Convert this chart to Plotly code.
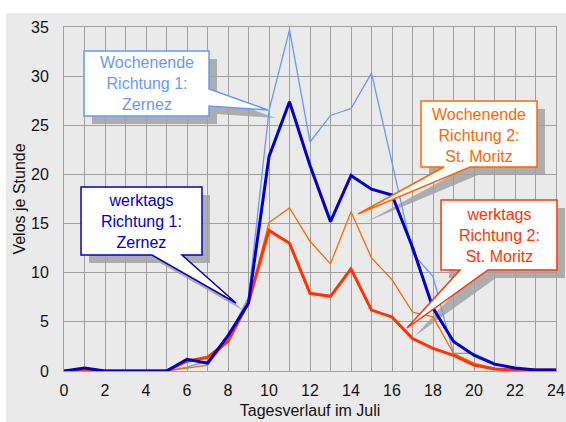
import plotly.graph_objects as go

hours = list(range(25))
werktags_r1 = [0, 0.3, 0, 0, 0, 0, 1.2, 0.8, 3.6, 6.9, 21.8, 27.4, 20.9, 15.2, 19.9, 18.5, 17.9, 12.6, 6.4, 3.0, 1.6, 0.7, 0.3, 0.1, 0.1]
wochenende_r1 = [0, 0, 0, 0, 0, 0, 0.4, 1.0, 3.4, 7.5, 26.5, 34.7, 23.3, 26.0, 26.7, 30.3, 21.2, 12.0, 9.6, 1.8, 1.8, 0.8, 0.1, 0.1, 0.1]
werktags_r2 = [0, 0, 0, 0, 0, 0, 1.0, 1.4, 3.0, 7.0, 14.3, 13.0, 7.9, 7.6, 10.4, 6.2, 5.5, 3.3, 2.3, 1.6, 0.6, 0.2, 0.1, 0.1, 0.1]
wochenende_r2 = [0, 0, 0, 0, 0, 0, 0.3, 0.6, 3.2, 7.0, 15.1, 16.6, 13.2, 10.9, 16.2, 11.5, 9.3, 6.0, 5.5, 1.8, 0.8, 0.3, 0.1, 0.1, 0.1]

x_ticks = list(range(0, 25, 2))
y_ticks = list(range(0, 36, 5))
x_title = "Tagesverlauf im Juli"
y_title = "Velos je Stunde"

DARK_BLUE = "#0000C8"
LIGHT_BLUE = "#6699FF"
ORANGE = "#FF6600"
RED = "#FF3300"
FONT = "Arial, Liberation Sans, sans-serif"

W, H = 566, 422
L, R, T, B = 64, 10, 27, 51

fig = go.Figure()
series = [
    (wochenende_r1, LIGHT_BLUE, 1.3, "Wochenende Richtung 1"),
    (wochenende_r2, ORANGE, 1.3, "Wochenende Richtung 2"),
    (werktags_r2, RED, 3, "werktags Richtung 2"),
    (werktags_r1, DARK_BLUE, 3, "werktags Richtung 1"),
]
for vals, col, w, name in series:
    fig.add_trace(go.Scatter(x=hours, y=vals, mode="lines", name=name,
                             line=dict(color=col, width=w), showlegend=False))


def px(x, y):
    return (x - L) / (W - L - R), (H - B - y) / (H - T - B)


def path(points, dx=0, dy=0):
    s = ""
    for i, (x, y) in enumerate(points):
        u, v = px(x + dx, y + dy)
        s += ("M" if i == 0 else "L") + f"{u:.4f},{v:.4f} "
    return s + "Z"


callouts = [
    ("Wochenende<br>Richtung 1:<br>Zernez", LIGHT_BLUE,
     [(84, 51), (209, 51), (209, 89), (268, 110), (209, 106), (209, 116), (84, 116)], (146.5, 84)),
    ("werktags<br>Richtung 1:<br>Zernez", DARK_BLUE,
     [(81, 187), (202, 187), (202, 255), (182, 255), (236, 303), (152, 255), (81, 255)], (141.5, 221.5)),
    ("Wochenende<br>Richtung 2:<br>St. Moritz", ORANGE,
     [(421, 101), (537, 101), (537, 167), (470, 167), (358, 214), (444, 167), (421, 167)], (479, 135)),
    ("werktags<br>Richtung 2:<br>St. Moritz", RED,
     [(441, 200), (557, 200), (557, 270), (488, 270), (407, 328), (460, 270), (441, 270)], (499, 235.5)),
]

shapes = []
shapes.append(dict(type="rect", xref="paper", yref="paper", layer="below",
                   x0=px(6, 0)[0], x1=px(W + 5, 0)[0], y0=px(0, H + 5)[1], y1=px(0, 13)[1],
                   fillcolor="#EAEAEA", line=dict(width=0)))
annotations = []
for text, col, pts, (cx, cy) in callouts:
    shapes.append(dict(type="path", xref="paper", yref="paper", layer="between",
                       path=path(pts, 8, 8), fillcolor="rgba(100,100,100,0.45)",
                       line=dict(width=0)))
    shapes.append(dict(type="path", xref="paper", yref="paper", layer="above",
                       path=path(pts), fillcolor="white",
                       line=dict(color=col, width=1.5)))
    u, v = px(cx, cy)
    annotations.append(dict(x=u, y=v, xref="paper", yref="paper", text=text,
                            showarrow=False, align="center", xanchor="center",
                            yanchor="middle",
                            font=dict(family=FONT, size=16, color=col)))

fig.update_layout(
    width=W, height=H,
    margin=dict(l=L, r=R, t=T, b=B, pad=0, autoexpand=False),
    paper_bgcolor="white",
    plot_bgcolor="#EAEAEA",
    font=dict(family=FONT, size=16, color="#111111"),
    shapes=shapes,
    annotations=annotations,
    xaxis=dict(range=[0, 24], tickvals=x_ticks, automargin=False,
               showgrid=True, gridcolor="#A0A0A0", gridwidth=1,
               minor=dict(dtick=1, showgrid=True, gridcolor="#A0A0A0", gridwidth=1),
               showline=True, mirror=True, linecolor="#A0A0A0", linewidth=1,
               zeroline=False, ticks="", ticklabelstandoff=5,
               title=dict(text=x_title, standoff=6, font=dict(size=16))),
    yaxis=dict(range=[0, 35], tickvals=y_ticks, automargin=False,
               showgrid=True, gridcolor="#A0A0A0", gridwidth=1,
               showline=True, mirror=True, linecolor="#A0A0A0", linewidth=1,
               zeroline=False, ticks="", ticklabelstandoff=11,
               title=dict(text=y_title, standoff=1, font=dict(size=16))),
)

fig.write_html("out.html", config={"displayModeBar": False},
               post_script="document.body.style.margin='0';document.body.style.overflow='hidden';")
